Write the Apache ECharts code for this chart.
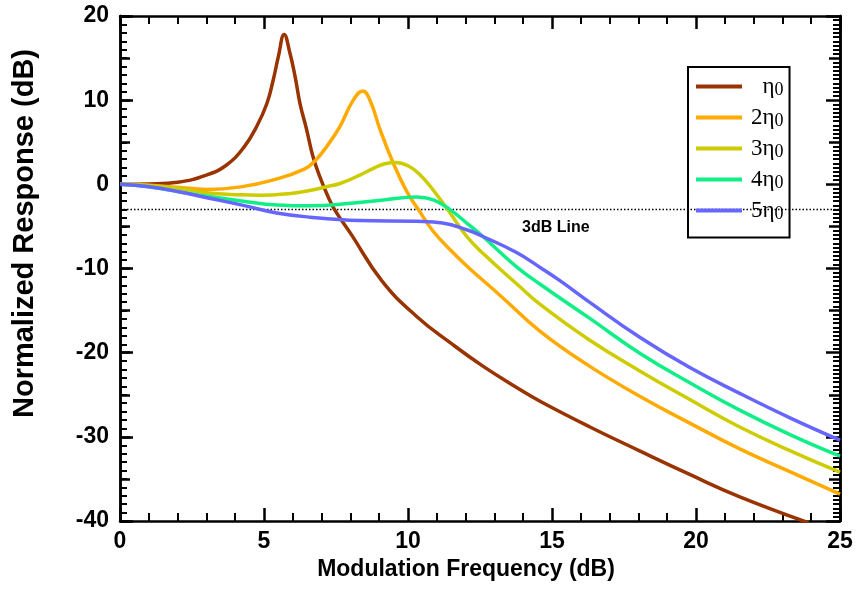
<!DOCTYPE html>
<html><head><meta charset="utf-8">
<script src="https://cdn.jsdelivr.net/npm/echarts@6/dist/echarts.min.js"></script>
<style>html,body{margin:0;padding:0;background:#fff}#c{width:857px;height:610px}</style>
</head><body><div id="c"></div>
<script>
// ---- data ----
const seriesNames = ['η0', '2η0', '3η0', '4η0', '5η0'];

const fBrown = [0, 1, 2, 3, 3.7, 4.3, 4.75, 5.1, 5.32, 5.5, 5.7, 5.9, 6.08, 6.25, 6.48, 6.7, 6.94, 7.23, 7.45, 8.0, 9.1, 10.3, 11.5, 12.6, 13.8, 14.6, 16.3, 18.06, 19.8, 21.5, 23.9];
const vBrown = [0, 0.05, 0.25, 1.1, 2.3, 4.4, 6.9, 9.6, 12.4, 15.2, 17.8, 15.6, 12.8, 9.6, 6.5, 3.3, 0.9, -1.5, -3.0, -5.8, -11.5, -15.7, -18.9, -21.6, -24.2, -25.8, -28.8, -31.7, -34.5, -37.1, -40.2];

const fOrange = [0, 1, 2, 3, 4.2, 5.3, 6.4, 6.8, 7.18, 7.64, 8.1, 8.43, 8.68, 9.03, 9.49, 9.95, 10.36, 10.88, 11.5, 12.04, 13.2, 14.6, 16.3, 18.06, 19.8, 21.5, 23.3, 25];
const vOrange = [0, -0.1, -0.35, -0.6, -0.3, 0.5, 1.8, 2.9, 4.5, 6.9, 10.0, 11.1, 10.0, 6.5, 2.5, -0.8, -3.0, -5.6, -7.9, -9.7, -13.2, -17.5, -21.6, -25.2, -28.4, -31.4, -34.2, -36.8];

const fYellow = [0, 1, 2, 3, 4.2, 4.9, 6.0, 6.5, 7.2, 7.64, 8.33, 8.8, 9.2, 9.6, 10.0, 10.4, 10.88, 11.46, 12.04, 12.6, 13.8, 14.6, 16.3, 18.06, 19.8, 21.5, 23.3, 25];
const vYellow = [0, -0.15, -0.45, -1.0, -1.25, -1.3, -1.05, -0.8, -0.26, 0.1, 1.1, 1.9, 2.45, 2.6, 2.2, 1.2, -0.7, -3.4, -6.2, -8.2, -11.9, -14.3, -18.5, -22.2, -25.6, -28.8, -31.7, -34.2];

const fGreen = [0, 1, 2, 3.1, 4.28, 5.44, 6.6, 8.0, 9.14, 10.3, 10.88, 11.46, 12.04, 12.6, 13.77, 14.6, 16.3, 18.06, 19.8, 21.5, 23.3, 25];
const vGreen = [0, -0.3, -0.85, -1.45, -2.0, -2.45, -2.55, -2.25, -1.85, -1.5, -1.85, -3.0, -4.6, -6.2, -9.8, -11.9, -15.9, -20.1, -23.6, -26.8, -29.8, -32.3];

const fBlue = [0, 1, 2, 3.1, 4.28, 5.44, 6.6, 8.33, 10.3, 11.2, 12.04, 12.6, 13.77, 14.6, 15.3, 16.3, 18.06, 19.8, 21.5, 23.3, 25];
const vBlue = [0, -0.3, -0.85, -1.65, -2.5, -3.4, -3.9, -4.3, -4.4, -4.6, -5.4, -6.2, -8.1, -9.9, -11.5, -14.0, -18.2, -21.8, -24.8, -27.8, -30.4];

const threshold3dB = -3;
const xRange = [0, 25];
const yRange = [-40, 20];

// ---- styling ----
const colors = ['#993300', '#FFAA00', '#CCCC00', '#11EE88', '#6666FF'];
const sans = '"Liberation Sans", Arial, sans-serif';
const serif = '"Liberation Serif", "Times New Roman", serif';

const pairs = (xs, ys) => xs.map((x, i) => [x, ys[i]]);
const curves = [[fBrown, vBrown], [fOrange, vOrange], [fYellow, vYellow], [fGreen, vGreen], [fBlue, vBlue]];

const axisLine = { show: true, onZero: false, lineStyle: { color: '#000', width: 2.5 } };
function tick(len, w) { return { show: true, inside: true, length: len, lineStyle: { color: '#000', width: w || 2.5 } }; }

const chart = echarts.init(document.getElementById('c'), null, { renderer: 'canvas' });
chart.setOption({
  animation: false,
  backgroundColor: '#fff',
  grid: { left: 120, right: 17, top: 16, bottom: 89 },
  xAxis: [
    {
      type: 'value', position: 'bottom', min: xRange[0], max: xRange[1], interval: 5,
      axisLine: axisLine, axisTick: tick(13),
      minorTick: { show: true, splitNumber: 5, length: 8, lineStyle: { color: '#000', width: 2 } },
      splitLine: { show: false },
      axisLabel: { color: '#000', fontSize: 23, fontWeight: 'bold', fontFamily: sans, margin: 9, showMinLabel: true, showMaxLabel: true },
      name: 'Modulation Frequency (dB)', nameLocation: 'middle', nameGap: 31,
      nameTextStyle: { color: '#000', fontSize: 23, fontWeight: 'bold', fontFamily: sans, padding: [0, 28, 0, 0] }
    },
    {
      type: 'value', position: 'top', min: xRange[0], max: xRange[1], interval: 5,
      axisLine: axisLine, axisTick: tick(13),
      minorTick: { show: true, splitNumber: 5, length: 8, lineStyle: { color: '#000', width: 2 } },
      splitLine: { show: false }, axisLabel: { show: false }
    }
  ],
  yAxis: [
    {
      type: 'value', position: 'left', min: yRange[0], max: yRange[1], interval: 10,
      axisLine: axisLine, axisTick: tick(13),
      minorTick: { show: true, splitNumber: 10, length: 7, lineStyle: { color: '#000', width: 2 } },
      splitLine: { show: false },
      axisLabel: { color: '#000', fontSize: 23, fontWeight: 'bold', fontFamily: sans, margin: 11, showMinLabel: true, showMaxLabel: true },
      name: 'Normalized Response (dB)', nameLocation: 'middle', nameGap: 81,
      nameTextStyle: { color: '#000', fontSize: 29, fontWeight: 'bold', fontFamily: sans, padding: [0, 0, 0, 70] }
    },
    {
      type: 'value', position: 'left', min: yRange[0], max: yRange[1], interval: 5,
      axisLine: axisLine, axisTick: tick(10), splitLine: { show: false }, axisLabel: { show: false }
    },
    {
      type: 'value', position: 'right', min: yRange[0], max: yRange[1], interval: 10,
      axisLine: axisLine, axisTick: tick(14), splitLine: { show: false }, axisLabel: { show: false }
    },
    {
      type: 'value', position: 'right', min: yRange[0], max: yRange[1], interval: 5,
      axisLine: axisLine, axisTick: tick(11),
      minorTick: { show: true, splitNumber: 10, length: 7, lineStyle: { color: '#000', width: 2 } },
      splitLine: { show: false }, axisLabel: { show: false }
    }
  ],
  legend: {
    data: seriesNames, orient: 'vertical', left: 688, top: 67,
    icon: 'rect', itemWidth: 46, itemHeight: 4, itemGap: 6.5,
    padding: [8, 6, 14, 8], borderColor: '#000', borderWidth: 2,
    selectedMode: false,
    formatter: function (name) {
      const k = name.indexOf('η');
      const pre = name.slice(0, k);
      return (pre ? '{g| }' : '{h| }') + '{n|' + pre + 'η}{s|0}';
    },
    textStyle: {
      color: '#000',
      rich: {
        g: { width: 4, fontSize: 10 },
        h: { width: 15.5, fontSize: 10 },
        n: { fontSize: 23, fontFamily: serif, color: '#000' },
        s: { fontSize: 18, fontFamily: serif, color: '#000', verticalAlign: 'bottom', padding: [8, 0, 0, 0] }
      }
    }
  },
  graphic: [
    { type: 'text', left: 522, top: 220, style: { text: '3dB Line', font: 'bold 16px ' + sans, fill: '#000' } }
  ],
  series: curves.map((c, i) => ({
    name: seriesNames[i], type: 'line', data: pairs(c[0], c[1]),
    smooth: 0.45, symbol: 'none', clip: true, color: colors[i],
    lineStyle: { width: 3.5, color: colors[i] }
  })).concat([{
    name: '3dB', type: 'line', data: [[xRange[0], threshold3dB], [xRange[1], threshold3dB]],
    symbol: 'none', silent: true, z: 1,
    lineStyle: { color: '#000', width: 1.5, type: [1.5, 2] }
  }])
});
</script></body></html>
